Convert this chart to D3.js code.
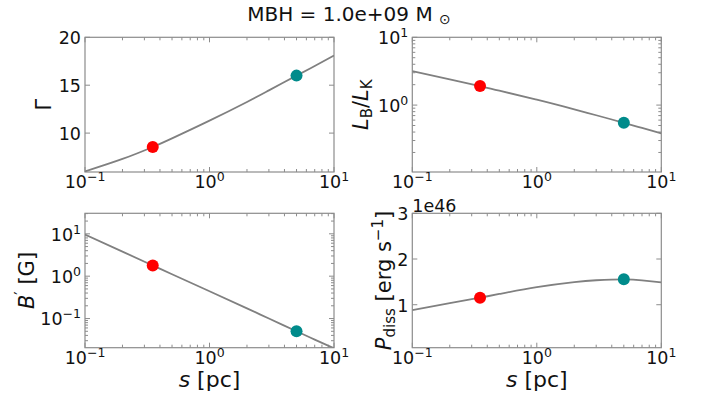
<!DOCTYPE html>
<html>
<head>
<meta charset="utf-8">
<script src="https://cdn.jsdelivr.net/npm/d3@7"></script>
<style>
  html, body { margin: 0; padding: 0; background: #fff; }
  svg text { font-family: "DejaVu Sans", sans-serif; fill: #111; }
</style>
</head>
<body>
<svg id="fig" width="707" height="401"></svg>
<script>
// Distance along the jet, s [pc]
const sValues = [0.1, 0.2, 0.35, 0.5, 1, 2, 3, 5, 7, 10];
// Bulk Lorentz factor
const gammaValues = [6.0, 7.3, 8.55, 9.45, 11.3, 13.25, 14.46, 16.0, 17.0, 18.1];
// Ratio of magnetic to kinetic luminosity
const lbLkValues = [3.18, 2.40, 1.91, 1.63, 1.20, 0.865, 0.708, 0.548, 0.460, 0.382];
// Comoving magnetic field [G]
const bFieldValues = [9.6, 3.8, 1.79, 1.11, 0.44, 0.174, 0.100, 0.050, 0.0319, 0.0198];
// Dissipated power [1e46 erg/s]
const pDissValues = [0.884, 1.035, 1.155, 1.235, 1.385, 1.495, 1.535, 1.555, 1.535, 1.49];

// Highlighted positions along the jet
const markerS = [0.35, 5];
const markerColors = ["#ff0000", "#008b8b"];
const markerGamma = [8.55, 16.0];
const markerLbLk = [1.91, 0.548];
const markerB = [1.79, 0.050];
const markerP = [1.155, 1.555];

// Axis tick values
const xMajorTicks = [0.1, 1, 10];
const gammaTicks = [10, 15, 20];
const pDissTicks = [1, 2, 3];

const svg = d3.select("#fig");
const LINE = "#808080";
const SPINE = "#8c8c8c";

function logMinor(domain) {
  const out = [];
  const lo = Math.floor(Math.log10(domain[0]));
  const hi = Math.ceil(Math.log10(domain[1]));
  for (let e = lo; e <= hi; e++) {
    for (let m = 2; m <= 9; m++) {
      const v = m * Math.pow(10, e);
      if (v >= domain[0] * 0.999 && v <= domain[1] * 1.001) out.push(v);
    }
  }
  return out;
}
function logMajor(domain) {
  const out = [];
  const lo = Math.floor(Math.log10(domain[0]));
  const hi = Math.ceil(Math.log10(domain[1]));
  for (let e = lo; e <= hi; e++) {
    const v = Math.pow(10, e);
    if (v >= domain[0] * 0.999 && v <= domain[1] * 1.001) out.push(v);
  }
  return out;
}

// Write "10^e" as base with raised exponent
function powLabel(sel, v) {
  const e = Math.round(Math.log10(v));
  sel.append("tspan").text("10");
  sel.append("tspan").attr("dy", -7).attr("font-size", 12.5)
    .text(e < 0 ? "\u2212" + (-e) : String(e));
}

function panel(cfg) {
  const { x0, x1, y0, y1 } = cfg;
  const g = svg.append("g");
  const x = d3.scaleLog().domain([0.1, 10]).range([x0, x1]);
  const y = (cfg.yType === "log" ? d3.scaleLog() : d3.scaleLinear())
    .domain(cfg.yDomain).range([y1, y0]);

  const clipId = "clip" + cfg.id;
  g.append("clipPath").attr("id", clipId)
    .append("rect").attr("x", x0).attr("y", y0).attr("width", x1 - x0).attr("height", y1 - y0);

  // Ticks (inward, on all four sides)
  const tg = g.append("g").attr("stroke", SPINE).attr("stroke-width", 1);
  const xMinor = logMinor([0.1, 10]);
  const xTicks = [...xMajorTicks.map(v => [v, 5]), ...xMinor.map(v => [v, 3])];
  xTicks.forEach(([v, len]) => {
    const px = x(v);
    tg.append("line").attr("x1", px).attr("x2", px).attr("y1", y1).attr("y2", y1 - len);
    tg.append("line").attr("x1", px).attr("x2", px).attr("y1", y0).attr("y2", y0 + len);
  });
  let yMajor, yMinor = [];
  if (cfg.yType === "log") {
    yMajor = logMajor(cfg.yDomain);
    yMinor = logMinor(cfg.yDomain);
  } else {
    yMajor = cfg.yTicks.filter(v => v >= cfg.yDomain[0] && v <= cfg.yDomain[1]);
  }
  const yTicks = [...yMajor.map(v => [v, 5]), ...yMinor.map(v => [v, 3])];
  yTicks.forEach(([v, len]) => {
    const py = y(v);
    tg.append("line").attr("x1", x0).attr("x2", x0 + len).attr("y1", py).attr("y2", py);
    tg.append("line").attr("x1", x1).attr("x2", x1 - len).attr("y1", py).attr("y2", py);
  });

  // Frame
  g.append("rect").attr("x", x0).attr("y", y0).attr("width", x1 - x0).attr("height", y1 - y0)
    .attr("fill", "none").attr("stroke", SPINE).attr("stroke-width", 1.2);

  // Curve
  const line = d3.line().x((d, i) => x(sValues[i])).y(d => y(d)).curve(d3.curveNatural);
  g.append("path").datum(cfg.values).attr("d", line)
    .attr("clip-path", `url(#${clipId})`)
    .attr("fill", "none").attr("stroke", LINE).attr("stroke-width", 1.8);

  // Markers
  g.selectAll("circle.mk").data(cfg.markers).join("circle")
    .attr("cx", (d, i) => x(markerS[i])).attr("cy", d => y(d)).attr("r", 6)
    .attr("fill", (d, i) => markerColors[i]);

  // X tick labels
  xMajorTicks.forEach(v => {
    const t = g.append("text").attr("x", x(v)).attr("y", y1 + 15.8)
      .attr("text-anchor", "middle").attr("font-size", 17.5);
    powLabel(t, v);
  });
  // Y tick labels
  yMajor.forEach(v => {
    const t = g.append("text").attr("x", x0 - 4).attr("y", y(v) + 6.8)
      .attr("text-anchor", "end").attr("font-size", 17.5);
    if (cfg.yType === "log") powLabel(t, v); else t.text(d3.format("d")(v));
  });

  // Y axis label
  const lab = g.append("text")
    .attr("transform", `translate(${cfg.labelX},${(y0 + y1) / 2}) rotate(-90)`)
    .attr("text-anchor", "middle").attr("font-size", 21);
  cfg.label(lab);

  if (cfg.xLabel) {
    const xl = g.append("text").attr("x", (x0 + x1) / 2).attr("y", y1 + 39.5)
      .attr("text-anchor", "middle").attr("font-size", 22);
    xl.append("tspan").attr("font-style", "italic").text("s");
    xl.append("tspan").text(" [pc]");
  }
  return g;
}

// Title
const title = svg.append("text").attr("x", 349).attr("y", 21)
  .attr("text-anchor", "middle").attr("font-size", 20);
title.append("tspan").text("MBH = 1.0e+09 M ");
title.append("tspan").attr("font-size", 14).attr("dy", 3).text("\u2299");

panel({
  id: 1, x0: 85, x1: 334, y0: 37.3, y1: 172,
  yType: "linear", yDomain: [5.94, 20], yTicks: gammaTicks,
  values: gammaValues, markers: markerGamma, labelX: 51,
  label: t => t.text("\u0393")
});

panel({
  id: 2, x0: 412.3, x1: 661.3, y0: 37.3, y1: 172,
  yType: "log", yDomain: [0.103, 10],
  values: lbLkValues, markers: markerLbLk, labelX: 368,
  label: t => {
    t.append("tspan").attr("font-style", "italic").text("L");
    t.append("tspan").attr("font-size", 15).attr("dy", 4).text("B");
    t.append("tspan").attr("dy", -4).text("/");
    t.append("tspan").attr("font-style", "italic").text("L");
    t.append("tspan").attr("font-size", 15).attr("dy", 4).text("K");
  }
});

panel({
  id: 3, x0: 85, x1: 334, y0: 213.3, y1: 347.7,
  yType: "log", yDomain: [0.0205, 30.5],
  values: bFieldValues, markers: markerB, labelX: 34, xLabel: true,
  label: t => {
    t.append("tspan").attr("font-style", "italic").text("B");
    t.append("tspan").attr("font-size", 15).attr("dy", -8).text("\u2032");
    t.append("tspan").attr("dy", 8).text(" [G]");
  }
});

const p4 = panel({
  id: 4, x0: 412.3, x1: 661.3, y0: 213.3, y1: 347.7,
  yType: "linear", yDomain: [0.06, 3], yTicks: pDissTicks,
  values: pDissValues, markers: markerP, labelX: 391, xLabel: true,
  label: t => {
    t.append("tspan").attr("font-style", "italic").text("P");
    t.append("tspan").attr("font-size", 15).attr("dy", 4).text("diss");
    t.append("tspan").attr("dy", -4).text(" [erg s");
    t.append("tspan").attr("font-size", 15).attr("dy", -8).text("\u22121");
    t.append("tspan").attr("dy", 8).text("]");
  }
});
// Scale factor of the dissipated power axis
p4.append("text").attr("x", 412.3).attr("y", 211.5).attr("font-size", 17.5).text("1e46");
</script>
</body>
</html>
